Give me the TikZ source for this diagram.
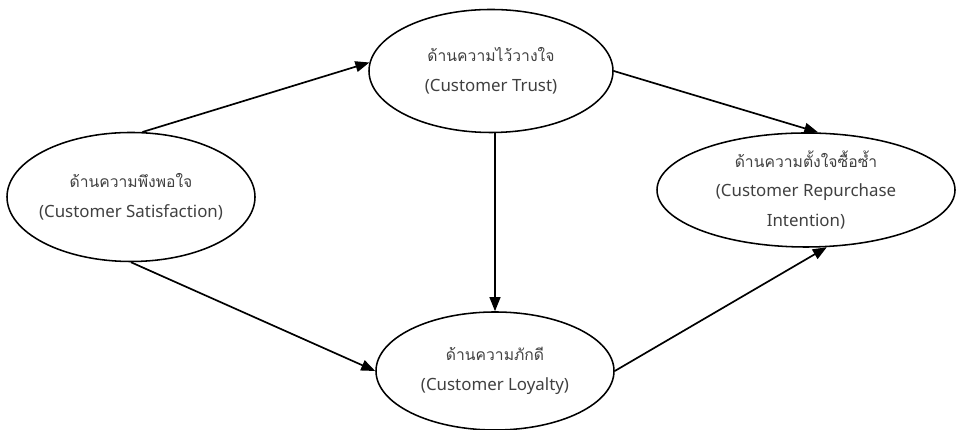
\documentclass[tikz,border=0pt]{standalone}
\usepackage{fontspec}
\setmainfont{Noto Sans}
\newfontfamily\thaifont[Script=Thai,Scale=0.93]{Loma}
\usetikzlibrary{shapes.geometric,arrows.meta}

\begin{document}
\begin{tikzpicture}[
		factor/.style={ellipse,draw,line width=1.1pt,inner ysep=0pt,inner xsep=-5mm,align=center,
				text=black!75,font=\fontsize{12}{21}\selectfont},
		link/.style={-{Triangle[length=3.5mm,width=2.7mm]},line width=1.2pt}
	]
	\useasboundingbox (0,0) rectangle (23.9,10.75);

	% four factors
	\node[factor,minimum width=6.2cm,minimum height=3.225cm] (satisfaction) at (3.275,5.825)
	{{\thaifont ด้านความพึงพอใจ}\\(Customer Satisfaction)};
	\node[factor,minimum width=6.1cm,minimum height=3.075cm] (trust) at (12.275,8.975)
	{{\thaifont ด้านความไว้วางใจ}\\(Customer Trust)};
	\node[factor,minimum width=7.45cm,minimum height=2.85cm] (repurchase) at (20.15,6.0)
	{{\thaifont ด้านความตั้งใจซื้อซ้ำ}\\(Customer Repurchase\\Intention)};
	\node[factor,minimum width=5.95cm,minimum height=2.95cm] (loyalty) at (12.375,1.475)
	{{\thaifont ด้านความภักดี}\\(Customer Loyalty)};

	% paths between them
	\draw[link] (satisfaction.80) -- (trust.176);
	\draw[link] (satisfaction.south) -- (loyalty.west);
	\draw[link] (trust.east) -- (repurchase.78);
	\draw[link] (loyalty.east) -- (repurchase.-70);
	\draw[link] (trust.south -| loyalty) -- (loyalty.north);
\end{tikzpicture}
\end{document}
